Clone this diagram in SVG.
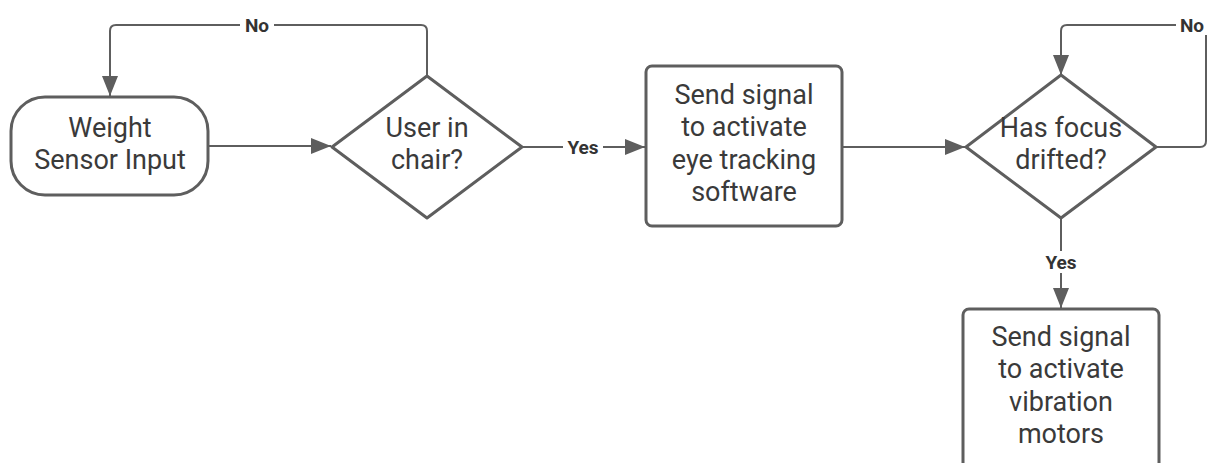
<svg xmlns="http://www.w3.org/2000/svg" width="1208" height="463" viewBox="0 0 1208 463">
<defs>
<style>
.shape{fill:#fff;stroke:#5e5e5e;stroke-width:3}
.conn{fill:none;stroke:#5e5e5e;stroke-width:2}
.t{font-family:Roboto,"Liberation Sans",sans-serif;font-size:27px;fill:#3a3a3a;text-anchor:middle}
.lbl{font-family:Roboto,"Liberation Sans",sans-serif;font-size:19px;font-weight:bold;fill:#333;text-anchor:middle}
</style>
<marker id="ah2" viewBox="0 0 20 16" refX="20" refY="8" markerWidth="22" markerHeight="16" markerUnits="userSpaceOnUse" orient="auto">
<path d="M0,0 L20,8 L0,16 z" fill="#5e5e5e"/>
</marker>
</defs>
<rect width="1208" height="463" fill="#fff"/>
<g id="connectors">
<path class="conn" d="M208,146 L331,146" marker-end="url(#ah2)"/>
<path class="conn" d="M427,76 L427,31 Q427,25 421,25 L116,25 Q110,25 110,31 L110,96" marker-end="url(#ah2)"/>
<path class="conn" d="M522,147 L645,147" marker-end="url(#ah2)"/>
<path class="conn" d="M842,147 L965,147" marker-end="url(#ah2)"/>
<path class="conn" d="M1156,147 L1200,147 Q1206,147 1206,141 L1206,25 L1067,25 Q1061,25 1061,31 L1061,75" marker-end="url(#ah2)"/>
<path class="conn" d="M1061,218 L1061,308" marker-end="url(#ah2)"/>
<rect x="240" y="15" width="34" height="20" fill="#fff"/>
<text class="lbl" x="257" y="32">No</text>
<rect x="563" y="137" width="40" height="20" fill="#fff"/>
<text class="lbl" x="583" y="154">Yes</text>
<rect x="1176" y="15" width="32" height="20" fill="#fff"/>
<text class="lbl" x="1192" y="32">No</text>
<rect x="1040" y="251" width="42" height="22" fill="#fff"/>
<text class="lbl" x="1061" y="269">Yes</text>
</g>
<g id="n1">
<rect class="shape" x="11" y="97" width="197" height="98" rx="34" ry="34"/>
<text class="t" x="110" y="137">Weight</text>
<text class="t" x="110" y="169">Sensor Input</text>
</g>
<g id="n2">
<path class="shape" d="M427,76 L522,147 L427,218 L332,147 z" stroke-linejoin="round"/>
<text class="t" x="427" y="137">User in</text>
<text class="t" x="427" y="169">chair?</text>
</g>
<g id="n3">
<rect class="shape" x="646" y="66" width="196" height="160" rx="6" ry="6"/>
<text class="t" x="744" y="104">Send signal</text>
<text class="t" x="744" y="136">to activate</text>
<text class="t" x="744" y="169">eye tracking</text>
<text class="t" x="744" y="201">software</text>
</g>
<g id="n4">
<path class="shape" d="M1061,75 L1156,147 L1061,218 L966,147 z" stroke-linejoin="round"/>
<text class="t" x="1061" y="137">Has focus</text>
<text class="t" x="1061" y="169">drifted?</text>
</g>
<g id="n5">
<rect class="shape" x="963" y="309" width="196" height="170" rx="6" ry="6"/>
<text class="t" x="1061" y="346">Send signal</text>
<text class="t" x="1061" y="378">to activate</text>
<text class="t" x="1061" y="411">vibration</text>
<text class="t" x="1061" y="443">motors</text>
</g>
</svg>
